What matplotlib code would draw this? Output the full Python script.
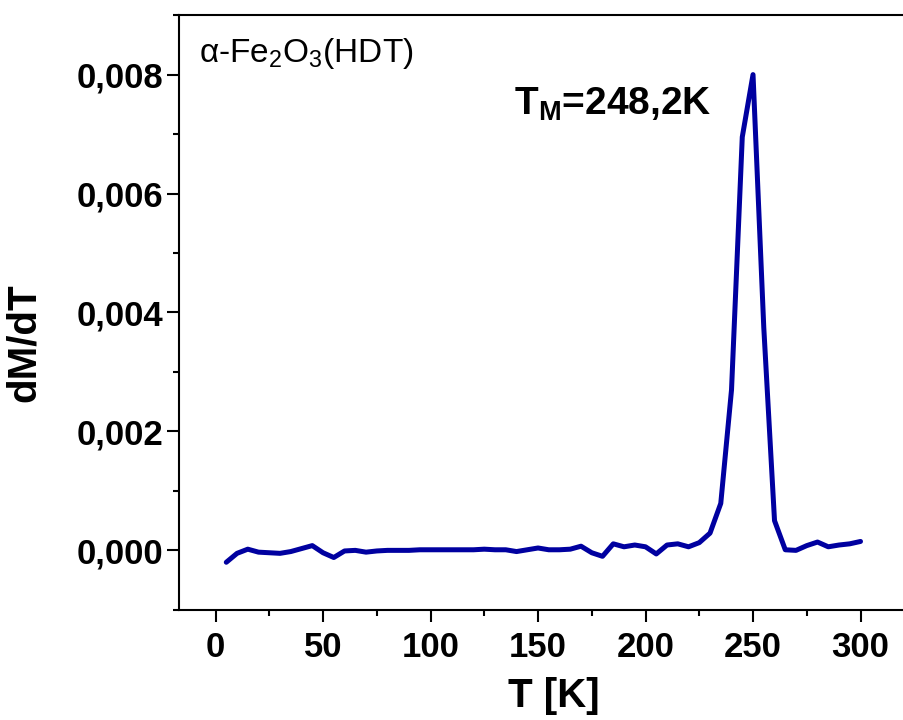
#!/usr/bin/env python3
import numpy as np
import matplotlib
matplotlib.use('Agg')
import matplotlib.pyplot as plt
from matplotlib.ticker import MultipleLocator, FuncFormatter

# dM/dT of alpha-Fe2O3 (HDT)
temperature = [5, 10, 15, 20, 25, 30, 35, 40, 45, 50,
	55, 60, 65, 70, 75, 80, 85, 90, 95, 100,
	105, 110, 115, 120, 125, 130, 135, 140, 145, 150,
	155, 160, 165, 170, 175, 180, 185, 190, 195, 200,
	205, 210, 215, 220, 225, 230, 235, 240, 245, 250,
	255, 260, 265, 270, 275, 280, 285, 290, 295, 300]
dmdt = [-0.00020, -0.00005, 0.00002, -0.00003, -0.00004, -0.00005, -0.00002, 0.00003, 0.00008, -0.00004,
	-0.00012, -0.00001, 0.00000, -0.00003, -0.00001, 0.00000, 0.00000, 0.00000, 0.00001, 0.00001,
	0.00001, 0.00001, 0.00001, 0.00001, 0.00002, 0.00001, 0.00001, -0.00002, 0.00001, 0.00004,
	0.00001, 0.00001, 0.00002, 0.00007, -0.00004, -0.00010, 0.00011, 0.00006, 0.00009, 0.00006,
	-0.00006, 0.00009, 0.00011, 0.00006, 0.00013, 0.00029, 0.00079, 0.00270, 0.00695, 0.00800,
	0.00375, 0.00050, 0.00001, 0.00000, 0.00008, 0.00014, 0.00006, 0.00009, 0.00011, 0.00015]

x_ticks = [0, 50, 100, 150, 200, 250, 300]
y_ticks = [0.000, 0.002, 0.004, 0.006, 0.008]

sample_label = 'α-Fe$_{2}$O$_{3}$(HDT)'
tm_label = r'$\mathbf{T_{M}}$=248,2K'


def main():
	plt.rcParams['font.family'] = ['Liberation Sans', 'DejaVu Sans']
	plt.rcParams['mathtext.fontset'] = 'custom'
	plt.rcParams['mathtext.rm'] = 'Liberation Sans'
	plt.rcParams['mathtext.it'] = 'Liberation Sans:italic'
	plt.rcParams['mathtext.bf'] = 'Liberation Sans:bold'

	fig = plt.figure(figsize=(9.04, 7.2), dpi=100)
	ax = fig.add_axes([0.198, 0.153, 0.830, 0.826])

	ax.plot(temperature, dmdt, color='#0000A0', lw=3.6, solid_joinstyle='round', solid_capstyle='round')

	ax.set_xlim(-17, 332)
	ax.set_ylim(-0.001, 0.009)
	ax.set_xticks(x_ticks)
	ax.set_yticks(y_ticks)
	ax.xaxis.set_minor_locator(MultipleLocator(25))
	ax.yaxis.set_minor_locator(MultipleLocator(0.001))
	ax.yaxis.set_major_formatter(FuncFormatter(lambda v, p: ('%.3f' % v).replace('.', ',')))

	ax.spines['right'].set_visible(False)
	for s in ['left', 'bottom', 'top']:
		ax.spines[s].set_linewidth(1.5)

	ax.tick_params(which='both', direction='out', top=False, right=False, width=1.5)
	ax.tick_params(which='major', length=8.5)
	ax.tick_params(which='minor', length=4.5)
	ax.tick_params(axis='x', labelsize=25, pad=7)
	ax.tick_params(axis='y', labelsize=25, pad=3)
	for lab in ax.get_xticklabels() + ax.get_yticklabels():
		lab.set_fontweight('bold')

	ax.set_xlabel('T [K]', fontsize=29, fontweight='bold')
	ax.set_ylabel('dM/dT', fontsize=29, fontweight='bold')
	ax.xaxis.set_label_coords(0.5, -0.113)
	ax.yaxis.set_label_coords(-0.181, 0.45)

	ax.text(0.026, 0.921, sample_label, transform=ax.transAxes, fontsize=24)
	ax.text(0.447, 0.832, tm_label, transform=ax.transAxes, fontsize=28, fontweight='bold')

	fig.savefig('out.png', dpi=100)


if __name__ == '__main__':
	main()
